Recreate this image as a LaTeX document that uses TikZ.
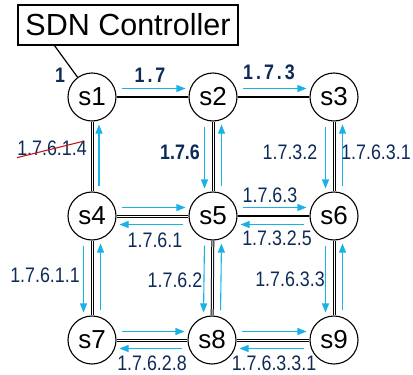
\documentclass[tikz,border=0pt]{standalone}
\usepackage{fontspec}
\setmainfont{Liberation Sans}
\newfontfamily\labfont[FakeStretch=0.85]{Liberation Sans}
\usetikzlibrary{arrows.meta}
\definecolor{flowc}{RGB}{25,178,228}
\definecolor{navy}{RGB}{14,42,88}
\definecolor{strikec}{RGB}{195,25,30}
\begin{document}
\begin{tikzpicture}[x=1pt,y=-1pt,
  sw/.style={circle, draw, line width=1.1pt, minimum size=48pt, inner sep=0pt, font=\fontsize{26}{26}\selectfont},
  link/.style={line width=1.2pt},
  dlink/.style={double, double distance=1pt, line width=1pt},
  flow/.style={flowc, line width=1.1pt, -{Triangle[length=9pt,width=7pt]}, shorten <=5pt, shorten >=3pt},
  lab/.style={text=navy, inner sep=0pt, font=\labfont\fontsize{21}{21}\selectfont},
  blab/.style={text=navy, inner sep=0pt, font=\labfont\bfseries\fontsize{21}{21}\selectfont}]
\useasboundingbox (0,0) rectangle (413,375);
% controller
\node[draw, line width=1.1pt, minimum width=220pt, minimum height=40pt, inner sep=0pt,
      font=\fontsize{30.5}{30.5}\selectfont] (ctrl) at (128,25) {SDN Controller};
% switches
\node[sw] (s1) at (92,97) {s1};
\node[sw] (s2) at (213,97) {s2};
\node[sw] (s3) at (334,97) {s3};
\node[sw] (s4) at (92,216) {s4};
\node[sw] (s5) at (213,216) {s5};
\node[sw] (s6) at (334,216) {s6};
\node[sw] (s7) at (92,340) {s7};
\node[sw] (s8) at (212,340) {s8};
\node[sw] (s9) at (334,340) {s9};
% links
\coordinate (cl) at ([xshift=37pt]ctrl.south west);
\draw[link] (cl) -- (s1);
\draw[link] (s1) -- (s2);
\draw[link] (s2) -- (s3);
\draw[link] (s5) -- (s6);
\draw[dlink] (s1) -- (s4);
\draw[dlink] (s2) -- (s5);
\draw[dlink] (s3) -- (s6);
\draw[dlink] (s4) -- (s5);
\draw[dlink] (s4) -- (s7);
\draw[dlink] (s5) -- (s8);
\draw[dlink] (s6) -- (s9);
\draw[dlink] (s7) -- (s8);
\draw[dlink] (s8) -- (s9);
% flows horizontal
\draw[flow] ([yshift=8.5pt]s1.east) -- ([yshift=8.5pt]s2.west);
\draw[flow] ([yshift=8.5pt]s2.east) -- ([yshift=8.5pt]s3.west);
\draw[flow] ([yshift=8.5pt]s4.east) -- ([yshift=8.5pt]s5.west);
\draw[flow] ([yshift=-8.5pt]s5.west) -- ([yshift=-8.5pt]s4.east);
\draw[flow] ([yshift=8.5pt]s5.east) -- ([yshift=8.5pt]s6.west);
\draw[flow] ([yshift=-8.5pt]s6.west) -- ([yshift=-8.5pt]s5.east);
\draw[flow] ([yshift=8.5pt]s7.east) -- ([yshift=8.5pt]s8.west);
\draw[flow] ([yshift=-8.5pt]s8.west) -- ([yshift=-8.5pt]s7.east);
\draw[flow] ([yshift=8.5pt]s8.east) -- ([yshift=8.5pt]s9.west);
\draw[flow] ([yshift=-8.5pt]s9.west) -- ([yshift=-8.5pt]s8.east);
% flows vertical
\draw[flow] ([xshift=7pt]s4.north) -- ([xshift=7pt]s1.south);
\draw[flow] ([xshift=-8.5pt]s2.south) -- ([xshift=-8.5pt]s5.north);
\draw[flow] ([xshift=8.5pt]s5.north) -- ([xshift=8.5pt]s2.south);
\draw[flow] ([xshift=-8.5pt]s3.south) -- ([xshift=-8.5pt]s6.north);
\draw[flow] ([xshift=8.5pt]s6.north) -- ([xshift=8.5pt]s3.south);
\draw[flow] ([xshift=-8.5pt]s4.south) -- ([xshift=-8.5pt]s7.north);
\draw[flow] ([xshift=8.5pt]s7.north) -- ([xshift=8.5pt]s4.south);
\draw[flow] ([xshift=-8.5pt]s5.south) -- ([xshift=-8.5pt]s8.north);
\draw[flow] ([xshift=8.5pt]s8.north) -- ([xshift=8.5pt]s5.south);
\draw[flow] ([xshift=-8.5pt]s6.south) -- ([xshift=-8.5pt]s9.north);
\draw[flow] ([xshift=8.5pt]s9.north) -- ([xshift=8.5pt]s6.south);
% labels
\node[blab] (l1) at (60,75) {1};
\node[blab] (l17) at (150,75) {1\hspace{3pt}.\hspace{3pt}7};
\node[blab] (l173) at (269,72) {1\hspace{3pt}.\hspace{3pt}7\hspace{3pt}.\hspace{3pt}3};
\node[lab] (l17614) at (52,148) {1.7.6.1.4};
\draw[strikec, line width=1.1pt] ([yshift=-2pt]l17614.south west) -- ([xshift=-4pt,yshift=-1pt]l17614.north east);
\node[blab] (l176) at (180,152) {1.7.6};
\node[lab] (l1732) at (290,152) {1.7.3.2};
\node[lab] (l17631) at (376,152) {1.7.6.3.1};
\node[lab] (l1763) at (270,195) {1.7.6.3};
\node[lab] (l17325) at (277,238) {1.7.3.2.5};
\node[lab] (l1761) at (155,240) {1.7.6.1};
\node[lab] (l17611) at (45,275) {1.7.6.1.1};
\node[lab] (l1762) at (175,280) {1.7.6.2};
\node[lab] (l17633) at (290,279) {1.7.6.3.3};
\node[lab] (l17628) at (152,363) {1.7.6.2.8};
\node[lab] (l176331) at (274,363) {1.7.6.3.3.1};
\end{tikzpicture}
\end{document}
